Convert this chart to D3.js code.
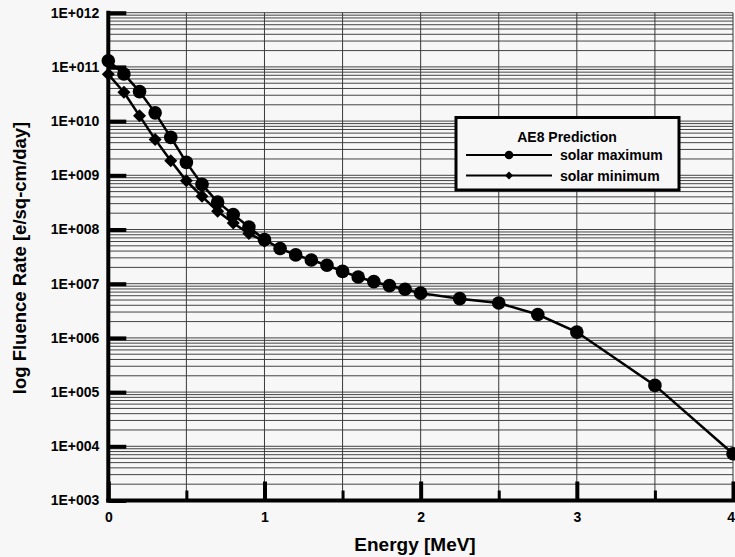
<!DOCTYPE html>
<html>
<head>
<meta charset="utf-8">
<script src="https://cdn.jsdelivr.net/npm/d3@7"></script>
<style>
  html, body { margin: 0; padding: 0; background: #f7f7f7; }
  svg { display: block; font-family: "Liberation Sans", Arial, Helvetica, sans-serif; font-weight: bold; }
</style>
</head>
<body>
<svg id="chart" width="735" height="557"></svg>
<script>
// ---- data ----
const energyMax = [0, 0.1, 0.2, 0.3, 0.4, 0.5, 0.6, 0.7, 0.8, 0.9, 1.0, 1.1, 1.2, 1.3, 1.4, 1.5, 1.6, 1.7, 1.8, 1.9, 2.0, 2.25, 2.5, 2.75, 3.0, 3.5, 4.0];
const fluenceMax = [1.3e11, 7.4e10, 3.5e10, 1.42e10, 5.0e9, 1.73e9, 6.8e8, 3.2e8, 1.89e8, 1.11e8, 6.5e7, 4.45e7, 3.4e7, 2.74e7, 2.19e7, 1.69e7, 1.33e7, 1.09e7, 9.2e6, 7.9e6, 6.7e6, 5.3e6, 4.4e6, 2.7e6, 1.28e6, 1.33e5, 7.3e3];
const energyMin = [0, 0.1, 0.2, 0.3, 0.4, 0.5, 0.6, 0.7, 0.8, 0.9, 1.0];
const fluenceMin = [7.3e10, 3.4e10, 1.25e10, 4.6e9, 1.85e9, 7.9e8, 4.1e8, 2.17e8, 1.32e8, 8.4e7, 6.1e7];
const xTicksMajor = [0, 1, 2, 3, 4];
const xTicksMinor = [0.5, 1.5, 2.5, 3.5];
const yTicks = [1e3, 1e4, 1e5, 1e6, 1e7, 1e8, 1e9, 1e10, 1e11, 1e12];
const legendTitle = "AE8 Prediction";
const seriesNames = ["solar maximum", "solar minimum"];
const xTitle = "Energy [MeV]";
const yTitle = "log Fluence Rate [e/sq-cm/day]";

// ---- layout ----
const svg = d3.select("#chart");
const x = d3.scaleLinear().domain([0, 4]).range([108.3, 733]);
const y = d3.scaleLog().domain([1e3, 1e12]).range([500.5, 12.7]);

svg.append("rect").attr("width", 735).attr("height", 557).attr("fill", "#f7f7f7");

// grid
const grid = svg.append("g");
const minorY = [];
for (let e = 3; e < 12; e++) for (let m = 1; m <= 9; m++) minorY.push(m * Math.pow(10, e));
minorY.push(1e12);
grid.selectAll("line.h").data(minorY).join("line")
  .attr("x1", x(0)).attr("x2", x(4))
  .attr("y1", d => y(d)).attr("y2", d => y(d))
  .attr("stroke", "#444").attr("stroke-width", 1);
const vGrid = d3.range(1, 9).map(i => i * 0.5);
grid.selectAll("line.v").data(vGrid).join("line")
  .attr("x1", d => x(d)).attr("x2", d => x(d))
  .attr("y1", y(1e3)).attr("y2", y(1e12))
  .attr("stroke", "#3a3a3a").attr("stroke-width", 1);

// series
const line = d3.line().x(d => x(d[0])).y(d => y(d[1]));
const minPts = energyMin.map((e, i) => [e, fluenceMin[i]]);
const maxPts = energyMax.map((e, i) => [e, fluenceMax[i]]);
svg.append("path").datum(minPts).attr("d", line).attr("fill", "none").attr("stroke", "#000").attr("stroke-width", 2.5);
svg.append("path").datum(maxPts).attr("d", line).attr("fill", "none").attr("stroke", "#000").attr("stroke-width", 2.5);
const diamond = (cx, cy, r) => `M${cx},${cy - r}L${cx + r},${cy}L${cx},${cy + r}L${cx - r},${cy}Z`;
svg.append("g").selectAll("path").data(minPts).join("path")
  .attr("d", d => diamond(x(d[0]), y(d[1]), 6.5)).attr("fill", "#000");
svg.append("g").selectAll("circle").data(maxPts).join("circle")
  .attr("cx", d => x(d[0])).attr("cy", d => y(d[1])).attr("r", 6.8).attr("fill", "#000");

// axes
const fmt = d => "1E+" + String(Math.round(Math.log10(d))).padStart(3, "0");
const yAxis = svg.append("g").attr("transform", `translate(${x(0)},0)`)
  .call(d3.axisLeft(y).tickValues(yTicks).tickFormat(fmt).tickSizeInner(-18).tickSizeOuter(0).tickPadding(9));
yAxis.select(".domain").attr("stroke", "#000").attr("stroke-width", 4).attr("d", `M0,${y(1e3) + 2}V${y(1e12) - 2}`);
yAxis.selectAll(".tick line").attr("stroke", "#000").attr("stroke-width", 4);
yAxis.selectAll(".tick text").attr("font-size", 14).attr("font-weight", "bold").attr("fill", "#000")
  .attr("font-family", "'Liberation Sans', Arial, sans-serif");

const xAxisMinor = svg.append("g").attr("transform", `translate(0,${y(1e3)})`)
  .call(d3.axisBottom(x).tickValues(xTicksMinor).tickFormat("").tickSizeInner(-10).tickSizeOuter(0));
xAxisMinor.select(".domain").remove();
xAxisMinor.selectAll(".tick line").attr("stroke", "#000").attr("stroke-width", 3);

const xAxis = svg.append("g").attr("transform", `translate(0,${y(1e3)})`)
  .call(d3.axisBottom(x).tickValues(xTicksMajor).tickFormat(d3.format("d")).tickSizeInner(-19).tickSizeOuter(0).tickPadding(12));
xAxis.select(".domain").attr("stroke", "#000").attr("stroke-width", 4).attr("d", `M${x(0) - 2},0H${x(4) + 2}`);
xAxis.selectAll(".tick line").attr("stroke", "#000").attr("stroke-width", 4);
xAxis.selectAll(".tick text").attr("font-size", 14).attr("font-weight", "bold").attr("fill", "#000")
  .attr("font-family", "'Liberation Sans', Arial, sans-serif");
// keep last label inside the page edge
xAxis.selectAll(".tick text").filter(d => d === 4).attr("text-anchor", "end").attr("x", 1.5);

// titles
svg.append("text").attr("x", 415).attr("y", 551).attr("text-anchor", "middle")
  .attr("font-size", 19).attr("fill", "#000").text(xTitle);
svg.append("text").attr("transform", "translate(26,258) rotate(-90)").attr("text-anchor", "middle")
  .attr("font-size", 18.5).attr("fill", "#000").text(yTitle);

// legend
const lg = svg.append("g");
lg.append("rect").attr("x", 456).attr("y", 117.5).attr("width", 223).attr("height", 72.5)
  .attr("fill", "#f7f7f7").attr("stroke", "#000").attr("stroke-width", 3);
lg.append("text").attr("x", 567).attr("y", 142).attr("text-anchor", "middle").attr("font-size", 14).text(legendTitle);
const rows = [155, 175.5];
seriesNames.forEach((name, i) => {
  const yy = rows[i];
  lg.append("line").attr("x1", 466).attr("x2", 552).attr("y1", yy).attr("y2", yy).attr("stroke", "#000").attr("stroke-width", 2);
  if (i === 0) lg.append("circle").attr("cx", 509).attr("cy", yy).attr("r", 4.3).attr("fill", "#000");
  else lg.append("path").attr("d", diamond(509, yy, 4)).attr("fill", "#000");
  lg.append("text").attr("x", 560).attr("y", yy + 5).attr("font-size", 14).text(name);
});
</script>
</body>
</html>
